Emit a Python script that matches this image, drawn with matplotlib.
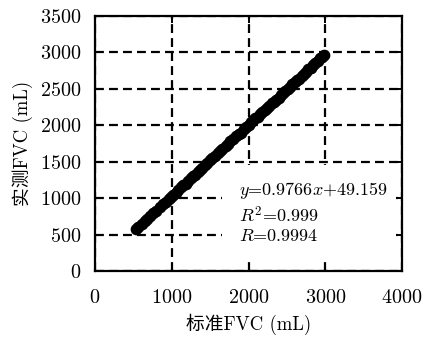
import matplotlib
matplotlib.use("Agg")
import matplotlib.pyplot as plt
from matplotlib.patches import Rectangle

plt.rcParams['font.family'] = ['cmr10', 'Noto Sans CJK SC']
plt.rcParams['mathtext.fontset'] = 'cm'
plt.rcParams['axes.formatter.use_mathtext'] = True

# standard FVC (mL) vs measured FVC (mL)
std_fvc = [540, 560, 610, 650, 680, 720, 760, 800, 850, 880, 920, 960, 990, 1010,
           1050, 1080, 1120, 1150, 1180, 1210, 1250, 1280, 1300, 1340, 1370, 1400,
           1430, 1460, 1500, 1530, 1560, 1600, 1630, 1660, 1700, 1730, 1760, 1800,
           1840, 1870, 1900, 1940, 1970, 2000, 2030, 2060, 2090, 2120, 2150, 2180,
           2210, 2240, 2270, 2300, 2330, 2360, 2390, 2420, 2450, 2480, 2510, 2540,
           2570, 2600, 2630, 2660, 2690, 2720, 2750, 2780, 2810, 2840, 2870, 2900,
           2930, 2960, 2980]
meas_fvc = [576, 600, 640, 680, 720, 750, 790, 830, 880, 915, 945, 985, 1020, 1040,
            1075, 1110, 1150, 1180, 1200, 1240, 1270, 1300, 1320, 1360, 1390, 1420,
            1460, 1480, 1520, 1550, 1580, 1620, 1650, 1680, 1710, 1740, 1780, 1810,
            1850, 1880, 1900, 1950, 1980, 2010, 2040, 2070, 2100, 2120, 2160, 2180,
            2210, 2240, 2270, 2300, 2320, 2350, 2380, 2410, 2440, 2470, 2500, 2530,
            2560, 2590, 2620, 2640, 2670, 2700, 2730, 2770, 2790, 2820, 2850, 2880,
            2920, 2940, 2960]
xticks = [0, 1000, 2000, 3000, 4000]
yticks = [0, 500, 1000, 1500, 2000, 2500, 3000, 3500]
fit_text = "$y$=0.9766$x$+49.159\n$R^2$=0.999\n$R$=0.9994"

fig = plt.figure(figsize=(4.22, 3.38), dpi=100)
ax = fig.add_axes([0.225, 0.198, 0.728, 0.755])

ax.set_axisbelow(True)
ax.grid(True, color='black', linestyle=(0, (4, 2.3)), linewidth=1.6)
ax.add_patch(Rectangle((1650, 130), 2270, 1320, facecolor='white',
                       edgecolor='none', zorder=1))
ax.scatter(std_fvc, meas_fvc, s=55, color='black', zorder=3)

ax.text(1880, 810, fit_text, fontsize=13, va='center', ha='left',
        linespacing=1.2, zorder=4)

ax.set_xlim(0, 4000)
ax.set_ylim(0, 3500)
ax.set_xticks(xticks)
ax.set_yticks(yticks)
ax.tick_params(direction='in', top=True, right=True, length=5, width=1.4,
               labelsize=14.5)
ax.tick_params(axis='x', pad=13)
ax.tick_params(axis='y', pad=10)
for s in ax.spines.values():
    s.set_linewidth(1.6)

ax.set_xlabel("标准FVC (mL)", fontsize=13.5, labelpad=5)
ax.set_ylabel("实测FVC (mL)", fontsize=13.5, labelpad=5)

fig.savefig("out.png", dpi=100)
